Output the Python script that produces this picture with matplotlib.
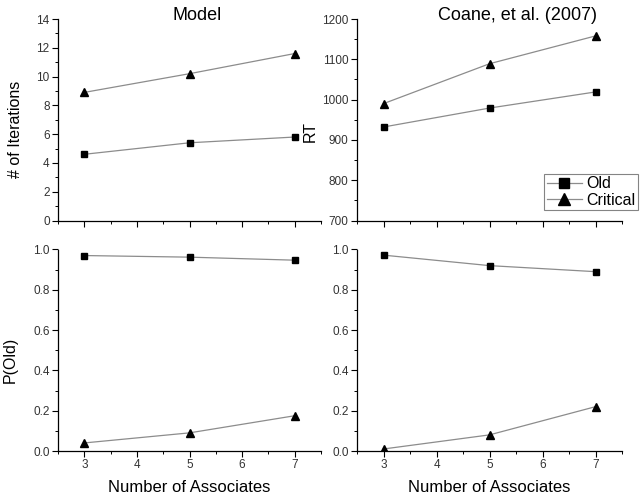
import matplotlib.pyplot as plt
from matplotlib.ticker import MultipleLocator

plt.rcParams['font.family'] = ['Liberation Sans', 'DejaVu Sans']

associates = [3, 5, 7]

# model: number of iterations
model_iter_old = [4.6, 5.4, 5.8]
model_iter_critical = [8.9, 10.2, 11.6]

# Coane et al. (2007): RT
coane_rt_old = [932, 979, 1019]
coane_rt_critical = [990, 1089, 1158]

# P(Old)
model_pold_old = [0.97, 0.962, 0.947]
model_pold_critical = [0.04, 0.09, 0.175]
coane_pold_old = [0.972, 0.92, 0.89]
coane_pold_critical = [0.01, 0.08, 0.22]

W, H = 644, 496
fig = plt.figure(figsize=(W / 100, H / 100), dpi=100)


def px_axes(x0, x1, y0, y1):
    return fig.add_axes([x0 / W, 1 - y1 / H, (x1 - x0) / W, (y1 - y0) / H])


ax_tl = px_axes(58, 321, 19, 220.5)
ax_tr = px_axes(357, 622, 19, 220.5)
ax_bl = px_axes(58, 321, 249.5, 451)
ax_br = px_axes(357, 622, 249.5, 451)

line_kw = dict(color='#8c8c8c', lw=0.9, markerfacecolor='black',
               markeredgecolor='black')


def draw(ax, old, crit):
    h1, = ax.plot(associates, old, marker='s', ms=4.5, label='Old', **line_kw)
    h2, = ax.plot(associates, crit, marker='^', ms=5.5, label='Critical', **line_kw)
    return h1, h2


draw(ax_tl, model_iter_old, model_iter_critical)
handles = draw(ax_tr, coane_rt_old, coane_rt_critical)
draw(ax_bl, model_pold_old, model_pold_critical)
draw(ax_br, coane_pold_old, coane_pold_critical)

ax_tl.set_ylim(0, 14)
ax_tl.yaxis.set_major_locator(MultipleLocator(2))
ax_tl.yaxis.set_minor_locator(MultipleLocator(1))
ax_tr.set_ylim(700, 1200)
ax_tr.yaxis.set_major_locator(MultipleLocator(100))
ax_tr.yaxis.set_minor_locator(MultipleLocator(50))
for ax in (ax_bl, ax_br):
    ax.set_ylim(0, 1.0)
    ax.yaxis.set_major_locator(MultipleLocator(0.2))
    ax.yaxis.set_minor_locator(MultipleLocator(0.1))
    ax.yaxis.set_major_formatter(plt.FormatStrFormatter('%.1f'))

for ax in (ax_tl, ax_tr, ax_bl, ax_br):
    ax.set_xlim(2.5, 7.5)
    ax.xaxis.set_minor_locator(MultipleLocator(0.5))
    ax.set_xticks([3, 4, 5, 6, 7])
    for s in ('top', 'right'):
        ax.spines[s].set_visible(False)
    for s in ('left', 'bottom'):
        ax.spines[s].set_linewidth(0.9)
    ax.tick_params(which='major', length=4, width=0.8, labelsize=8.5,
                   labelcolor='#333333', pad=2)
    ax.tick_params(which='minor', length=2, width=0.7)
    ax.patch.set_alpha(0)

for ax in (ax_tl, ax_tr):
    ax.tick_params(axis='x', labelbottom=False)

for ax in (ax_bl, ax_br):
    ax.set_xlabel('Number of Associates', fontsize=12, labelpad=6)

ax_tl.set_ylabel('# of Iterations', fontsize=11.5)
ax_tl.yaxis.set_label_coords(-0.133, 0.45)
ax_bl.set_ylabel('P(Old)', fontsize=11.5)
ax_bl.yaxis.set_label_coords(-0.152, 0.45)
fig.text(310 / W, 1 - 131 / H, 'RT', rotation=90, fontsize=11.5,
         ha='center', va='center')

fig.text(197 / W, 1 - 15 / H, 'Model', fontsize=13, ha='center', va='center')
fig.text(517 / W, 1 - 15 / H, 'Coane, et al. (2007)', fontsize=13,
         ha='center', va='center')

leg = ax_tr.legend(handles=handles, loc='upper right',
                   bbox_to_anchor=(638 / W, 1 - 174 / H),
                   bbox_transform=fig.transFigure, fontsize=11.5,
                   frameon=True, fancybox=False, edgecolor='#666666',
                   handlelength=2.2, borderpad=0.15, labelspacing=0.1,
                   handletextpad=0.3, borderaxespad=0, markerscale=1.6)
leg.get_frame().set_linewidth(0.8)

fig.savefig('out.png', dpi=100)
